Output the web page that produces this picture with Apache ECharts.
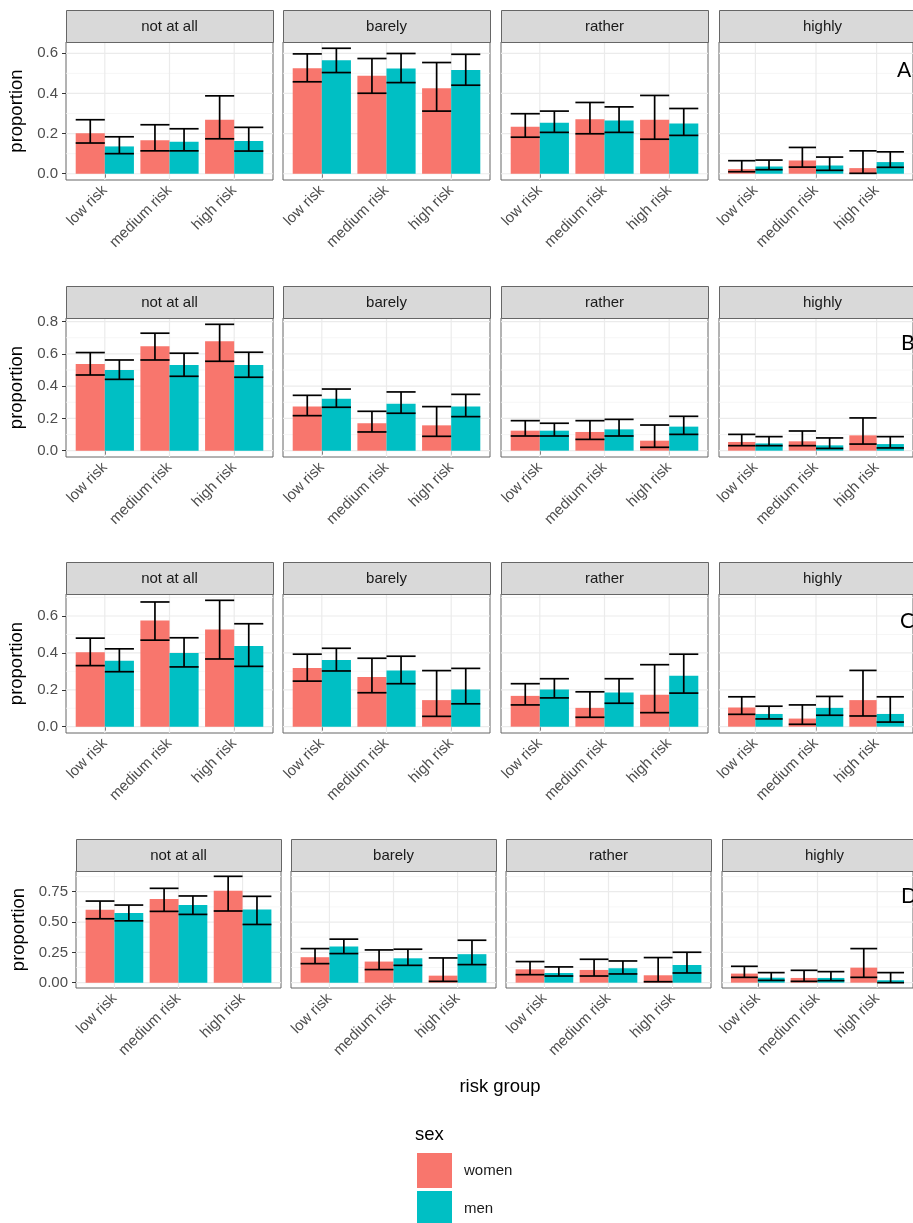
<!DOCTYPE html>
<html>
<head>
<meta charset="utf-8">
<script src="https://cdn.jsdelivr.net/npm/echarts@6/dist/echarts.min.js"></script>
<style>
  html, body { margin: 0; padding: 0; background: #fff; }
  #chart { width: 913px; height: 1223px; }
</style>
</head>
<body>
<div id="chart"></div>
<script>
// categories
var riskGroups = ['low risk', 'medium risk', 'high risk'];
var concern = ['not at all', 'barely', 'rather', 'highly'];
var panelTags = ['A', 'B', 'C', 'D'];
var sexes = ['women', 'men'];

// y tick labels per row (major / minor grid)
var ticksA = [0, 0.2, 0.4, 0.6], minorA = [0.1, 0.3, 0.5];
var ticksB = [0, 0.2, 0.4, 0.6, 0.8], minorB = [0.1, 0.3, 0.5, 0.7];
var ticksC = [0, 0.2, 0.4, 0.6], minorC = [0.1, 0.3, 0.5, 0.7];
var ticksD = [0, 0.25, 0.5, 0.75], minorD = [0.125, 0.375, 0.625, 0.875];

// proportions: one inner array per concern level (low, medium, high risk)
var womenA    = [[0.202, 0.167, 0.269], [0.526, 0.488, 0.426], [0.234, 0.272, 0.269], [0.023, 0.066, 0.028]];
var womenA_lo = [[0.153, 0.114, 0.174], [0.458, 0.401, 0.312], [0.182, 0.199, 0.172], [0.010, 0.033, 0.002]];
var womenA_hi = [[0.269, 0.244, 0.388], [0.597, 0.574, 0.554], [0.299, 0.355, 0.390], [0.065, 0.131, 0.114]];
var menA      = [[0.136, 0.159, 0.163], [0.565, 0.524, 0.517], [0.254, 0.265, 0.250], [0.036, 0.041, 0.058]];
var menA_lo   = [[0.100, 0.114, 0.113], [0.504, 0.454, 0.441], [0.206, 0.206, 0.191], [0.020, 0.017, 0.032]];
var menA_hi   = [[0.184, 0.224, 0.231], [0.625, 0.599, 0.595], [0.312, 0.333, 0.325], [0.068, 0.083, 0.109]];

var womenB    = [[0.537, 0.647, 0.678], [0.273, 0.170, 0.157], [0.124, 0.116, 0.062], [0.054, 0.058, 0.095]];
var womenB_lo = [[0.469, 0.562, 0.554], [0.217, 0.116, 0.089], [0.091, 0.070, 0.021], [0.031, 0.031, 0.041]];
var womenB_hi = [[0.608, 0.728, 0.783], [0.343, 0.244, 0.273], [0.186, 0.186, 0.159], [0.101, 0.122, 0.203]];
var menB      = [[0.500, 0.531, 0.531], [0.322, 0.291, 0.273], [0.124, 0.132, 0.149], [0.045, 0.033, 0.041]];
var menB_lo   = [[0.442, 0.461, 0.455], [0.269, 0.232, 0.211], [0.091, 0.091, 0.101], [0.031, 0.014, 0.017]];
var menB_hi   = [[0.562, 0.604, 0.610], [0.382, 0.364, 0.349], [0.170, 0.194, 0.213], [0.087, 0.079, 0.087]];

var womenC    = [[0.404, 0.576, 0.527], [0.318, 0.269, 0.144], [0.167, 0.102, 0.173], [0.104, 0.044, 0.144]];
var womenC_lo = [[0.331, 0.469, 0.367], [0.247, 0.184, 0.056], [0.118, 0.051, 0.076], [0.067, 0.013, 0.058]];
var womenC_hi = [[0.480, 0.676, 0.685], [0.393, 0.371, 0.304], [0.233, 0.189, 0.336], [0.162, 0.118, 0.305]];
var menC      = [[0.358, 0.400, 0.438], [0.362, 0.304, 0.202], [0.202, 0.185, 0.276], [0.069, 0.102, 0.069]];
var menC_lo   = [[0.298, 0.324, 0.327], [0.302, 0.233, 0.124], [0.156, 0.127, 0.182], [0.042, 0.062, 0.025]];
var menC_hi   = [[0.422, 0.482, 0.558], [0.425, 0.382, 0.316], [0.260, 0.260, 0.393], [0.111, 0.164, 0.162]];

var womenD    = [[0.602, 0.690, 0.759], [0.210, 0.174, 0.058], [0.110, 0.105, 0.061], [0.075, 0.039, 0.124]];
var womenD_lo = [[0.527, 0.588, 0.591], [0.157, 0.108, 0.011], [0.066, 0.055, 0.008], [0.044, 0.011, 0.044]];
var womenD_hi = [[0.673, 0.778, 0.877], [0.281, 0.270, 0.204], [0.174, 0.193, 0.207], [0.135, 0.102, 0.281]];
var menD      = [[0.574, 0.640, 0.604], [0.298, 0.201, 0.235], [0.080, 0.119, 0.146], [0.041, 0.039, 0.020]];
var menD_lo   = [[0.510, 0.563, 0.480], [0.240, 0.143, 0.149], [0.055, 0.072, 0.080], [0.019, 0.017, 0.000]];
var menD_hi   = [[0.640, 0.715, 0.712], [0.359, 0.276, 0.350], [0.130, 0.179, 0.251], [0.083, 0.091, 0.083]];

var rows = [
  {tag: 'A', ticks: ticksA, minor: minorA, dec: 1, val: [womenA, menA], lo: [womenA_lo, menA_lo], hi: [womenA_hi, menA_hi]},
  {tag: 'B', ticks: ticksB, minor: minorB, dec: 1, val: [womenB, menB], lo: [womenB_lo, menB_lo], hi: [womenB_hi, menB_hi]},
  {tag: 'C', ticks: ticksC, minor: minorC, dec: 1, val: [womenC, menC], lo: [womenC_lo, menC_lo], hi: [womenC_hi, menC_hi]},
  {tag: 'D', ticks: ticksD, minor: minorD, dec: 2, val: [womenD, menD], lo: [womenD_lo, menD_lo], hi: [womenD_hi, menD_hi]}
];

var colors = ['#F8766D', '#00BFC4'];
var fontFam = '"Liberation Sans", Arial, sans-serif';
var lineCol = '#666';

// layout (px)
var panelTop = [42, 318, 594, 871];
var panelH = [138, 139, 139, 117];
var stripH = 32;
var colLeft = [[66, 283, 501, 719], [66, 283, 501, 719], [66, 283, 501, 719], [76, 291, 506, 722]];
var colW = [207, 207, 207, 205];
var tagPos = [[897, 60], [901, 333], [900, 611], [901, 886]];

var grids = [], xAxes = [], yAxes = [], series = [], graphics = [];

function gridItem(params, api) {
  var kind = api.value(0), v = api.value(1);
  var a, b;
  if (kind === 2) {
    var cs = params.coordSys;
    a = api.coord([v, 0]); b = [a[0], cs.y + cs.height];
    a[1] = cs.y;
  } else {
    a = api.coord([0.4, v]); b = api.coord([3.6, v]);
  }
  return {
    type: 'line',
    shape: {x1: a[0], y1: a[1], x2: b[0], y2: b[1]},
    style: {stroke: kind === 1 ? '#F4F4F4' : '#EBEBEB', lineWidth: kind === 1 ? 0.8 : 1.2}
  };
}

function barItem(side, color) {
  return function (params, api) {
    var x = api.value(0), v = api.value(1);
    var a = api.coord([side === 0 ? x - 0.45 : x, v]);
    var b = api.coord([side === 0 ? x : x + 0.45, 0]);
    return {
      type: 'rect',
      shape: {x: Math.min(a[0], b[0]), y: Math.min(a[1], b[1]), width: Math.abs(b[0] - a[0]), height: Math.abs(b[1] - a[1])},
      style: {fill: color}
    };
  };
}

function errItem(side) {
  return function (params, api) {
    var x = api.value(0), lo = api.value(1), hi = api.value(2);
    var x0 = side === 0 ? x - 0.45 : x, x1 = side === 0 ? x : x + 0.45, xc = (x0 + x1) / 2;
    var pLo = api.coord([xc, lo]), pHi = api.coord([xc, hi]);
    var l0 = api.coord([x0, lo]), l1 = api.coord([x1, lo]);
    var h0 = api.coord([x0, hi]), h1 = api.coord([x1, hi]);
    var st = {stroke: '#000', lineWidth: 1.7};
    return {
      type: 'group',
      children: [
        {type: 'line', shape: {x1: pLo[0], y1: pLo[1], x2: pHi[0], y2: pHi[1]}, style: st},
        {type: 'line', shape: {x1: l0[0], y1: l0[1], x2: l1[0], y2: l1[1]}, style: st},
        {type: 'line', shape: {x1: h0[0], y1: h0[1], x2: h1[0], y2: h1[1]}, style: st}
      ]
    };
  };
}

rows.forEach(function (row, r) {
  // ggplot-like expansion of the y range
  var maxHi = 0;
  row.hi.forEach(function (s) { s.forEach(function (f) { f.forEach(function (v) { maxHi = Math.max(maxHi, v); }); }); });
  var yMin = -0.05 * maxHi, yMax = maxHi * 1.05;

  concern.forEach(function (lvl, c) {
    var idx = grids.length;
    var left = colLeft[r][c];
    grids.push({
      left: left, top: panelTop[r], width: colW[r], height: panelH[r],
      show: true, borderColor: lineCol, borderWidth: 1, backgroundColor: '#fff'
    });
    xAxes.push({
      type: 'value', gridIndex: idx, min: 0.4, max: 3.6,
      axisLine: {show: false}, splitLine: {show: false},
      axisTick: {show: true, customValues: [1, 2, 3], length: 4, lineStyle: {color: '#333', width: 1}},
      axisLabel: {
        customValues: [1, 2, 3], rotate: 45, margin: 8, fontSize: 15, color: '#4d4d4d', fontFamily: fontFam,
        formatter: function (v) { return riskGroups[Math.round(v) - 1]; }
      }
    });
    var first = c === 0;
    yAxes.push({
      type: 'value', gridIndex: idx, min: yMin, max: yMax,
      axisLine: {show: false}, splitLine: {show: false},
      axisTick: {show: first, customValues: row.ticks, length: 4, lineStyle: {color: '#333', width: 1}},
      axisLabel: {
        show: first, customValues: row.ticks, margin: 8, fontSize: 15, color: '#4d4d4d', fontFamily: fontFam,
        formatter: function (v) { return v.toFixed(row.dec); }
      },
      name: first ? 'proportion' : '', nameLocation: 'middle', nameGap: r === 3 ? 48 : 40,
      nameTextStyle: {fontSize: 18.5, color: '#000', fontFamily: fontFam}
    });

    // panel grid lines
    var gl = [];
    row.ticks.forEach(function (v) { gl.push([0, v]); });
    row.minor.forEach(function (v) { if (v < yMax) gl.push([1, v]); });
    [1, 2, 3].forEach(function (v) { gl.push([2, v]); });
    series.push({
      type: 'custom', xAxisIndex: idx, yAxisIndex: idx, silent: true, z: 1,
      renderItem: gridItem, data: gl, encode: {x: -1, y: -1}
    });

    sexes.forEach(function (sx, s) {
      var bars = row.val[s][c].map(function (v, k) { return [k + 1, v]; });
      series.push({
        type: 'custom', name: sx, xAxisIndex: idx, yAxisIndex: idx, silent: true, z: 2,
        itemStyle: {color: colors[s]},
        renderItem: barItem(s, colors[s]), data: bars
      });
    });
    sexes.forEach(function (sx, s) {
      var errs = row.lo[s][c].map(function (v, k) { return [k + 1, v, row.hi[s][c][k]]; });
      series.push({
        type: 'custom', xAxisIndex: idx, yAxisIndex: idx, silent: true, z: 3,
        renderItem: errItem(s), data: errs, encode: {x: 0, y: [1, 2]}
      });
    });

    // strip header
    graphics.push({
      type: 'rect', left: left, top: panelTop[r] - stripH, z: 10,
      shape: {width: colW[r], height: stripH},
      style: {fill: '#D9D9D9', stroke: lineCol, lineWidth: 1}
    });
    graphics.push({
      type: 'text', x: left + colW[r] / 2, y: panelTop[r] - stripH / 2 + 1, z: 11,
      style: {text: lvl, fontSize: 15, fill: '#1a1a1a', fontFamily: fontFam, align: 'center', verticalAlign: 'middle'}
    });
  });

  graphics.push({
    type: 'text', x: tagPos[r][0], y: tagPos[r][1], z: 11,
    style: {text: row.tag, fontSize: 21, fill: '#000', fontFamily: 'Lato, "Open Sans", sans-serif'}
  });
});

graphics.push({
  type: 'text', x: 500, y: 1087, z: 11,
  style: {text: 'risk group', fontSize: 18.5, fill: '#000', fontFamily: fontFam, align: 'center', verticalAlign: 'middle'}
});
graphics.push({
  type: 'text', x: 415, y: 1135, z: 11,
  style: {text: 'sex', fontSize: 18.5, fill: '#000', fontFamily: fontFam, align: 'left', verticalAlign: 'middle'}
});

var option = {
  animation: false,
  backgroundColor: '#fff',
  grid: grids,
  xAxis: xAxes,
  yAxis: yAxes,
  series: series,
  graphic: graphics,
  legend: {
    data: [{name: 'women', icon: 'rect'}, {name: 'men', icon: 'rect'}],
    orient: 'vertical', left: 417, top: 1153, height: 120, padding: 0,
    itemWidth: 35, itemHeight: 35, itemGap: 3, selectedMode: false,
    textStyle: {fontSize: 15, color: '#1a1a1a', fontFamily: fontFam, padding: [0, 0, 0, 7]}
  }
};

var myChart = echarts.init(document.getElementById('chart'));
myChart.setOption(option);
</script>
</body>
</html>
